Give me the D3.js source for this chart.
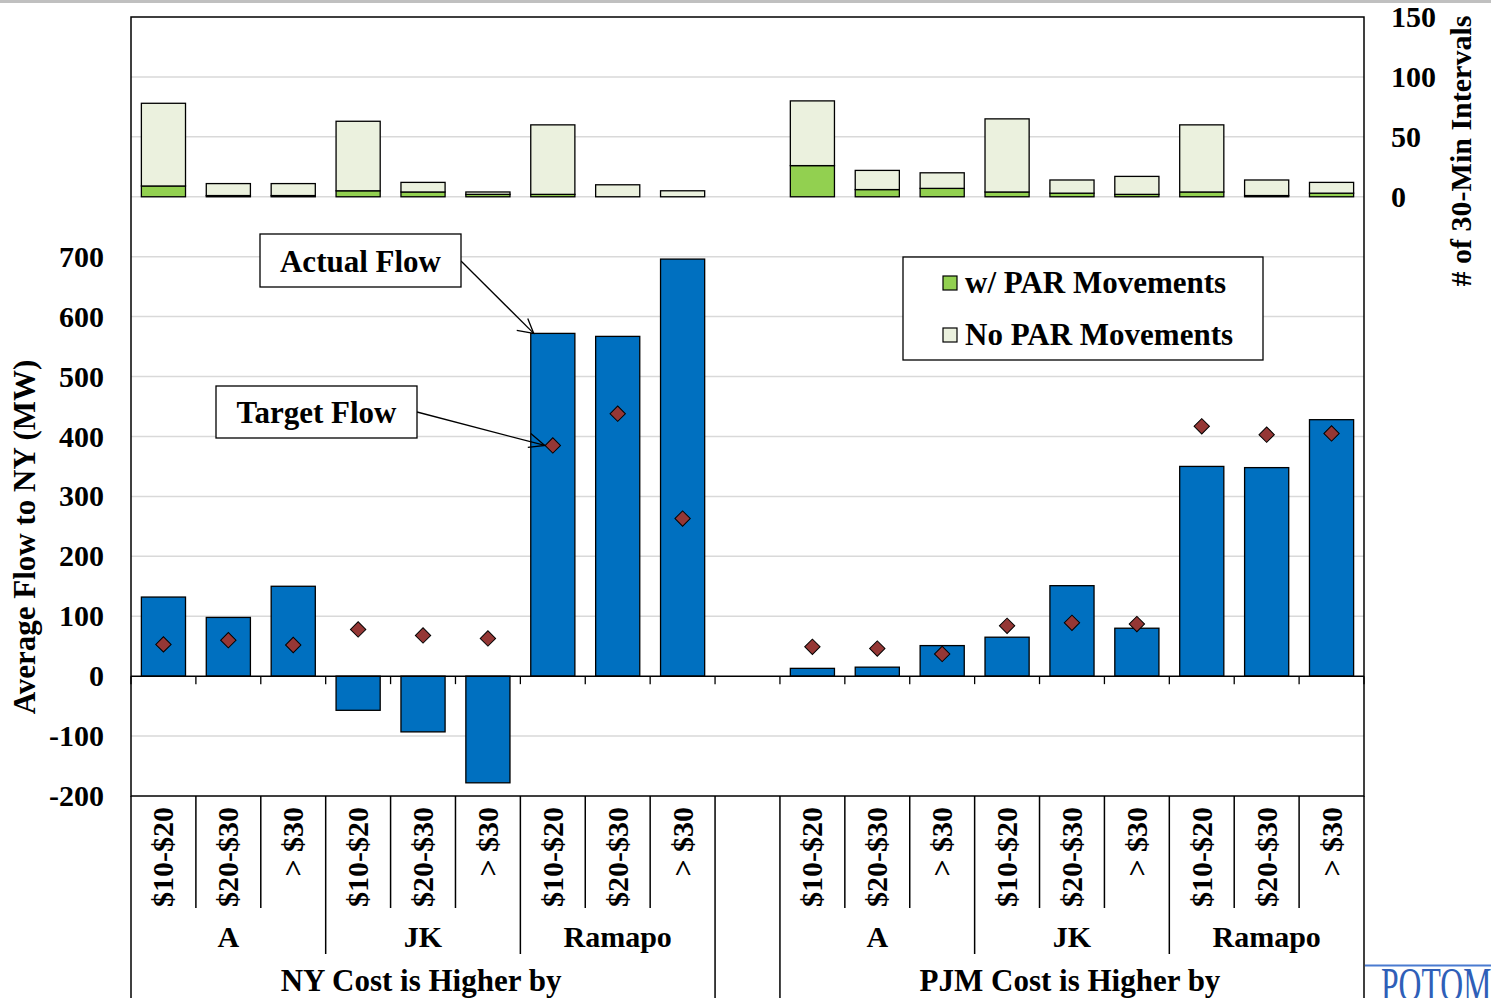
<!DOCTYPE html>
<html><head><meta charset="utf-8">
<script src="https://cdn.jsdelivr.net/npm/d3@7"></script>
<style>
html,body{margin:0;padding:0;background:#fff;overflow:hidden;}
svg{display:block;}
text{font-family:"Liberation Serif","Times New Roman",serif;font-weight:bold;fill:#000;}
</style></head><body>
<svg id="chart" width="1491" height="998"></svg>
<script>
// ---- data ----
const sides = ["NY Cost is Higher by", "PJM Cost is Higher by"];
const groups = ["A", "JK", "Ramapo"];
const priceBins = ["$10-$20", "$20-$30", "> $30"];

const actualFlowNY  = [132, 98, 150, -57, -93, -178, 572, 567, 696];
const actualFlowPJM = [13, 15, 51, 65, 151, 80, 350, 348, 428];
const targetFlowNY  = [53, 60, 52, 78, 68, 63, 385, 438, 263];
const targetFlowPJM = [49, 46, 37, 84, 89, 87, 417, 403, 405];

const withParNY  = [9, 1, 1, 5, 4, 2, 2, 0, 0];
const noParNY    = [69, 10, 10, 58, 8, 2, 58, 10, 5];
const withParPJM = [26, 6, 7, 4, 3, 2, 4, 1, 3];
const noParPJM   = [54, 16, 13, 61, 11, 15, 56, 13, 9];

const leftTicks  = [-200, -100, 0, 100, 200, 300, 400, 500, 600, 700];
const rightTicks = [0, 50, 100, 150];
const gridValues = [-100, 100, 200, 300, 400, 500, 600, 700, 800, 900, 1000];

const legendLabels = ["w/ PAR Movements", "No PAR Movements"];
const leftTitle = "Average Flow to NY (MW)";
const rightTitle = "# of 30-Min Intervals";

// ---- build rows ----
const rows = [];
const sideData = [
  {actual: actualFlowNY, target: targetFlowNY, withPar: withParNY, noPar: noParNY},
  {actual: actualFlowPJM, target: targetFlowPJM, withPar: withParPJM, noPar: noParPJM}
];
sides.forEach((s, si) => {
  let k = 0;
  groups.forEach(g => {
    priceBins.forEach(b => {
      const d = sideData[si];
      rows.push({key: s + "|" + g + "|" + b, side: s, group: g, bin: b,
        actual: d.actual[k], target: d.target[k], withPar: d.withPar[k], noPar: d.noPar[k]});
      k++;
    });
  });
  if (si === 0) rows.push({key: "gap", gap: true});
});
const dataRows = rows.filter(r => !r.gap);

// ---- layout ----
const L = 131, R = 1364, T = 17, B = 796, H = 998;
const svg = d3.select("#chart");

const x = d3.scaleBand().domain(rows.map(r => r.key)).range([L, R]).paddingInner(0.32).paddingOuter(0.16);
const step = x.step();
const y = d3.scaleLinear().domain([-200, 1100]).range([B, T]);
const y2 = d3.scaleLinear().domain([0, 150]).range([y(800), y(1100)]);

// top gray band
svg.append("rect").attr("x", 0).attr("y", 0).attr("width", 1491).attr("height", 3).attr("fill", "#c0c0c0");

// gridlines
svg.append("g").selectAll("line").data(gridValues).join("line")
  .attr("x1", L).attr("x2", R).attr("y1", d => y(d)).attr("y2", d => y(d))
  .attr("stroke", "#d9d9d9").attr("stroke-width", 1.5);

// top stacked bars
const stack = d3.stack().keys(["withPar", "noPar"]);
const stacked = stack(dataRows);
const topColors = {withPar: "#92d050", noPar: "#ebf1de"};
svg.append("g").selectAll("g").data(stacked).join("g")
  .attr("fill", d => topColors[d.key])
  .selectAll("rect").data(d => d).join("rect")
  .attr("x", d => x(d.data.key)).attr("width", x.bandwidth())
  .attr("y", d => y2(d[1])).attr("height", d => Math.max(0, y2(d[0]) - y2(d[1])))
  .attr("stroke", "#000").attr("stroke-width", 1.3);

// actual flow bars
svg.append("g").selectAll("rect").data(dataRows).join("rect")
  .attr("x", d => x(d.key)).attr("width", x.bandwidth())
  .attr("y", d => y(Math.max(0, d.actual))).attr("height", d => Math.abs(y(d.actual) - y(0)))
  .attr("fill", "#0070c0").attr("stroke", "#000").attr("stroke-width", 1.3);

// zero axis line + tick marks
svg.append("line").attr("x1", L).attr("x2", R).attr("y1", y(0)).attr("y2", y(0))
  .attr("stroke", "#000").attr("stroke-width", 1.5);
const boundaries = d3.range(0, rows.length + 1).map(i => L + i * step);
svg.append("g").selectAll("line").data(boundaries).join("line")
  .attr("x1", d => d).attr("x2", d => d).attr("y1", y(0)).attr("y2", y(0) + 8)
  .attr("stroke", "#000").attr("stroke-width", 1.3);

// target diamonds
const diamond = d3.symbol().type(d3.symbolSquare).size(118);
svg.append("g").selectAll("path").data(dataRows).join("path")
  .attr("d", diamond)
  .attr("transform", d => `translate(${x(d.key) + x.bandwidth() / 2},${y(d.target)}) rotate(45)`)
  .attr("fill", "#953735").attr("stroke", "#000").attr("stroke-width", 1);

// plot border
svg.append("rect").attr("x", L).attr("y", T).attr("width", R - L).attr("height", B - T)
  .attr("fill", "none").attr("stroke", "#000").attr("stroke-width", 1.5);
svg.append("line").attr("x1", L).attr("x2", L).attr("y1", B).attr("y2", H).attr("stroke", "#000").attr("stroke-width", 1.5);
svg.append("line").attr("x1", R).attr("x2", R).attr("y1", B).attr("y2", H).attr("stroke", "#000").attr("stroke-width", 1.5);

// left axis
const ax = svg.append("g").attr("transform", `translate(${L},0)`)
  .call(d3.axisLeft(y).tickValues(leftTicks).tickFormat(d => String(d)).tickSize(0).tickPadding(27));
ax.select(".domain").remove();
ax.selectAll("text").attr("font-size", 30).attr("font-family", "Liberation Serif, Times New Roman, serif").attr("font-weight", "bold").attr("fill", "#000");

// right axis
const ax2 = svg.append("g").attr("transform", `translate(${R},0)`)
  .call(d3.axisRight(y2).tickValues(rightTicks).tickFormat(d => String(d)).tickSize(0).tickPadding(27));
ax2.select(".domain").remove();
ax2.selectAll("text").attr("font-size", 30).attr("font-family", "Liberation Serif, Times New Roman, serif").attr("font-weight", "bold").attr("fill", "#000");

// axis titles
svg.append("text").attr("transform", "translate(35,537) rotate(-90)").attr("text-anchor", "middle")
  .attr("font-size", 31).text(leftTitle);
svg.append("text").attr("transform", "translate(1471,151) rotate(-90)").attr("text-anchor", "middle")
  .attr("font-size", 30).text(rightTitle);

// category table lines
const lineLen = i => {
  if (i === 9 || i === 10) return H;
  if (i === 3 || i === 6 || i === 13 || i === 16) return 954;
  return 908;
};
svg.append("g").selectAll("line").data(d3.range(1, rows.length)).join("line")
  .attr("x1", i => L + i * step).attr("x2", i => L + i * step)
  .attr("y1", B).attr("y2", i => lineLen(i))
  .attr("stroke", "#000").attr("stroke-width", 1.5);

// level 1 labels
svg.append("g").selectAll("text").data(dataRows).join("text")
  .attr("transform", d => `translate(${x(d.key) + x.bandwidth() / 2 + 10},807) rotate(-90)`)
  .attr("text-anchor", "end").attr("font-size", 30).text(d => d.bin);

// level 2 labels
const groupItems = [];
sides.forEach(s => groups.forEach(g => {
  const keys = dataRows.filter(r => r.side === s && r.group === g).map(r => r.key);
  groupItems.push({label: g, x0: x(keys[0]) - step * 0.16, x1: x(keys[keys.length - 1]) + x.bandwidth() + step * 0.16});
}));
svg.append("g").selectAll("text").data(groupItems).join("text")
  .attr("x", d => (d.x0 + d.x1) / 2).attr("y", 947).attr("text-anchor", "middle")
  .attr("font-size", 30).text(d => d.label);

// level 3 labels
const sideItems = sides.map(s => {
  const keys = dataRows.filter(r => r.side === s).map(r => r.key);
  return {label: s, x0: x(keys[0]) - step * 0.16, x1: x(keys[keys.length - 1]) + x.bandwidth() + step * 0.16};
});
svg.append("g").selectAll("text").data(sideItems).join("text")
  .attr("x", d => (d.x0 + d.x1) / 2 - 2).attr("y", 991).attr("text-anchor", "middle")
  .attr("font-size", 31).text(d => d.label);

// annotation boxes
function callout(bx, by, bw, bh, label, tx, ty, hx1, hy1, hx2, hy2, x2p, y2p) {
  const g = svg.append("g");
  g.append("line").attr("x1", x2p).attr("y1", y2p).attr("x2", tx).attr("y2", ty).attr("stroke", "#000").attr("stroke-width", 1.3);
  g.append("polyline").attr("points", `${hx1},${hy1} ${tx},${ty} ${hx2},${hy2}`).attr("fill", "none").attr("stroke", "#000").attr("stroke-width", 1.3);
  g.append("rect").attr("x", bx).attr("y", by).attr("width", bw).attr("height", bh).attr("fill", "#fff").attr("stroke", "#000").attr("stroke-width", 1.3);
  g.append("text").attr("x", bx + bw / 2).attr("y", by + bh / 2 + 11).attr("text-anchor", "middle").attr("font-size", 31).text(label);
}
const ramapoNY = dataRows[6];
const barTopX = x(ramapoNY.key), barTopY = y(ramapoNY.actual);
const diaX = x(ramapoNY.key) + x.bandwidth() / 2 - 8, diaY = y(ramapoNY.target);
callout(260, 234, 201, 53, "Actual Flow", barTopX + 3, barTopY, barTopX - 14, barTopY - 3, barTopX - 3, barTopY - 15, 461, 261);
callout(216, 386, 201, 52, "Target Flow", diaX, diaY, diaX - 17, diaY + 2, diaX - 14, diaY - 12, 417, 412);

// legend
const lg = svg.append("g");
lg.append("rect").attr("x", 903).attr("y", 257).attr("width", 360).attr("height", 103).attr("fill", "#fff").attr("stroke", "#000").attr("stroke-width", 1.3);
const legendColors = ["#92d050", "#ebf1de"];
legendLabels.forEach((t, i) => {
  lg.append("rect").attr("x", 943).attr("y", 276 + i * 52).attr("width", 14).attr("height", 14)
    .attr("fill", legendColors[i]).attr("stroke", "#000").attr("stroke-width", 1.2);
  lg.append("text").attr("x", 965).attr("y", 293 + i * 52).attr("font-size", 31).text(t);
});

// logo fragment (cut off at the page edge, as in the source slide)
svg.append("line").attr("x1", R + 1).attr("x2", 1491).attr("y1", 965.5).attr("y2", 965.5).attr("stroke", "#4a7bd0").attr("stroke-width", 2);
svg.append("text").attr("transform", "translate(1381,1001) scale(0.66,1)")
  .attr("font-size", 48).style("font-weight", "normal").style("fill", "#2f5fb8").text("POTOMAC");
</script>
</body></html>
